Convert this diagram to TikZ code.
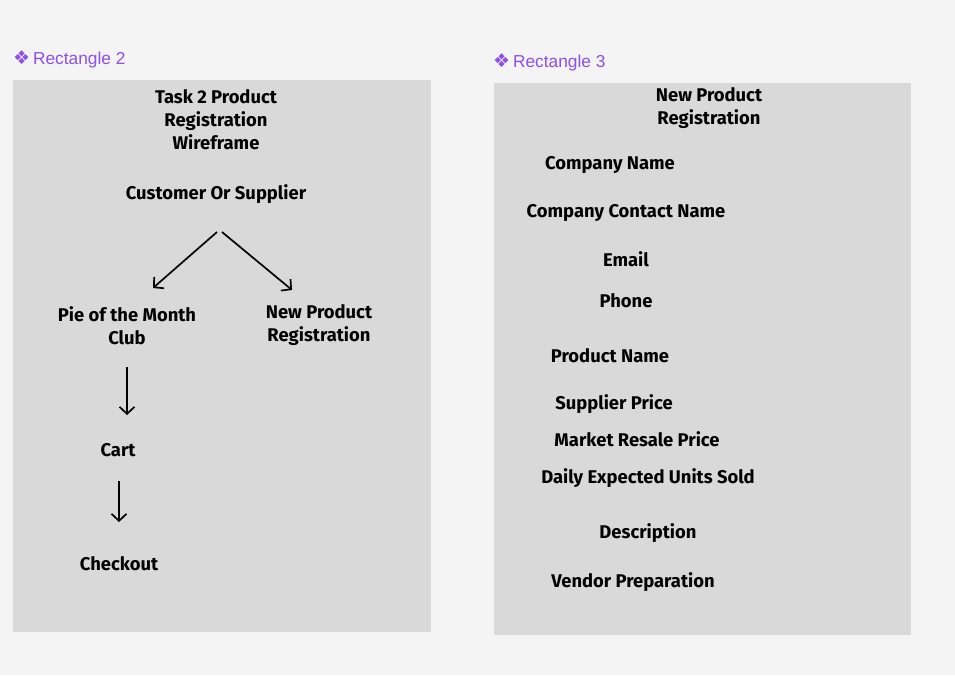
\documentclass[tikz,border=0pt]{standalone}
\usepackage{fontspec}
\setmainfont{Fira Sans}
\newfontfamily\labfont{DejaVu Sans}
\newfontfamily\tagfont{Liberation Sans}
\usetikzlibrary{arrows.meta}
\definecolor{bgc}{HTML}{F4F4F4}
\definecolor{boxc}{HTML}{D9D9D9}
\definecolor{purp}{HTML}{8E4FEA}
\tikzset{
  lbl/.style={font=\fontsize{18.4}{23}\selectfont\bfseries, align=center, inner sep=0pt, text=black},
  tag/.style={font=\fontsize{17.3}{18}\selectfont\tagfont, text=purp, anchor=west, inner sep=0pt},
  frame/.style={fill=boxc, draw=none},
  arr/.style={line width=1.7pt, -{Straight Barb[length=7pt,width=15pt,line width=1.7pt]}}
}
\begin{document}
\begin{tikzpicture}[x=1pt,y=-1pt]
\fill[bgc] (0,0) rectangle (955,675);
\useasboundingbox (0,0) rectangle (955,675);
\node[frame, minimum width=418pt, minimum height=552pt, anchor=north west] (r2) at (13,80) {};
\node[frame, minimum width=417pt, minimum height=552pt, anchor=north west] (r3) at (494,83) {};
\node[tag] (t2) at (13,59) {{\labfont\fontsize{19}{18}\selectfont ❖}\,Rectangle 2};
\node[tag] (t3) at (493,62) {{\labfont\fontsize{19}{18}\selectfont ❖}\,Rectangle 3};
% left
\node[lbl] (title) at (216,120) {Task 2 Product\\Registration\\Wireframe};
\node[lbl] (cust) at (216,194) {Customer Or Supplier};
\node[lbl] (pie) at (127,325.5) {Pie of the Month\\Club};
\node[lbl] (npr) at (319,325.5) {New Product\\Registration};
\node[lbl] (cart) at (118,450) {Cart};
\node[lbl] (chk) at (119,564) {Checkout};
\coordinate (a1s) at (217,232); \coordinate (a1e) at (153,288);
\coordinate (a2s) at (222,232); \coordinate (a2e) at (292,290);
\coordinate (a3s) at (127,367); \coordinate (a3e) at (127,415);
\coordinate (a4s) at (119,481); \coordinate (a4e) at (119,522);
\draw[arr] (a1s) -- (a1e);
\draw[arr] (a2s) -- (a2e);
\draw[arr] (a3s) -- (a3e);
\draw[arr] (a4s) -- (a4e);
% right
\node[lbl] (npr2) at (709,108.5) {New Product\\Registration};
\node[lbl] (f1) at (610,165) {Company Name};
\node[lbl] (f2) at (626,213) {Company Contact Name};
\node[lbl] (f3) at (626,259) {Email};
\node[lbl] (f4) at (626,301) {Phone};
\node[lbl] (f5) at (610,356) {Product Name};
\node[lbl] (f6) at (614,404) {Supplier Price};
\node[lbl] (f7) at (637,439) {Market Resale Price};
\node[lbl] (f8) at (648,478) {Daily Expected Units Sold};
\node[lbl] (f9) at (648,533) {Description};
\node[lbl] (f10) at (633,582) {Vendor Preparation};
\end{tikzpicture}
\end{document}
